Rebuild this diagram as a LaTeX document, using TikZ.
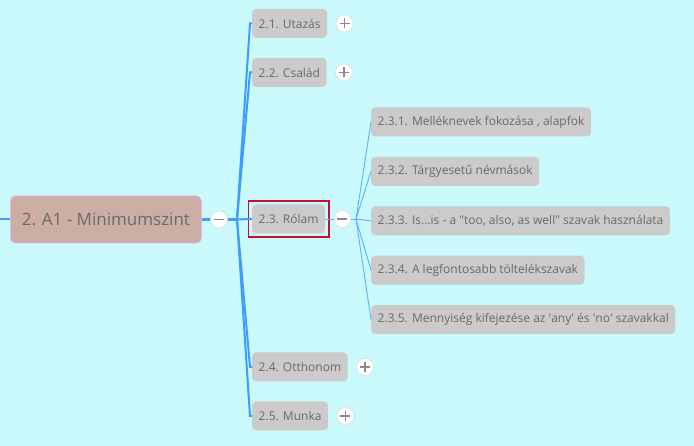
\documentclass[tikz,border=0pt]{standalone}
\usepackage{fontspec}
\setmainfont{Open Sans}
\usetikzlibrary{positioning,fit}

\definecolor{mapbg}{HTML}{C9F9FB}
\definecolor{topicgray}{HTML}{CCCACA}
\definecolor{rootfill}{HTML}{CDAEA4}
\definecolor{rootline}{HTML}{E3B5EC}
\definecolor{textgray}{HTML}{6A6A6A}
\definecolor{linkblue}{HTML}{3E9BFF}
\definecolor{sublinkblue}{HTML}{5CB0FF}
\definecolor{selred}{HTML}{C8102E}
\definecolor{btnline}{HTML}{D2D2D2}
\definecolor{btnsign}{HTML}{8A8A8A}

\newcommand{\btnminus}[1]{\draw[btnsign, line width=1.6pt] ([xshift=-5pt]#1.center) -- ([xshift=5pt]#1.center);}
\newcommand{\btnplus}[1]{\btnminus{#1}\draw[btnsign, line width=1.6pt] ([yshift=-5pt]#1.center) -- ([yshift=5pt]#1.center);}

\begin{document}
\begin{tikzpicture}[
        x=1pt, y=-1pt,
        topic/.style={rectangle, rounded corners=4pt, fill=topicgray, text=textgray, font=\fontsize{12}{14}\selectfont, minimum height=29pt, inner xsep=6.5pt, anchor=west},
        roottopic/.style={rectangle, rounded corners=5pt, draw=rootline, line width=0.8pt, fill=rootfill, text=textgray, font=\fontsize{17}{20}\selectfont, minimum height=47pt, minimum width=191pt, anchor=west},
        button/.style={circle, draw=btnline, fill=white, minimum size=17pt, inner sep=0pt},
        link/.style={draw=linkblue, line width=2pt},
        sublink/.style={draw=sublinkblue, line width=0.9pt},
        selected/.style={rectangle, draw=selred, line width=1.6pt, inner sep=3.5pt}
    ]

    % Background
    \fill[mapbg] (0,0) rectangle (694,446);
    \useasboundingbox (0,0) rectangle (694,446);

    % Central topic
    \node[roottopic] (root) at (10,219.5) {2. A1 - Minimumszint};
    \node[button, right=8.5pt of root] (rootbtn) {};
    \coordinate (lead) at (0,219.5);
    \coordinate (hub) at (237,219.5);

    % Main topics
    \node[topic] (utazas) at (252,23.5) {2.1. Utazás};
    \node[topic] (csalad) at (252,72.5) {2.2. Család};
    \node[topic] (rolam) at (252,219) {2.3. Rólam};
    \node[topic] (otthonom) at (252,367) {2.4. Otthonom};
    \node[topic] (munka) at (252,416) {2.5. Munka};

    \node[button, right=8.5pt of utazas] (utazasbtn) {};
    \node[button, right=8.5pt of csalad] (csaladbtn) {};
    \node[button, right=8.5pt of rolam] (rolambtn) {};
    \node[button, right=8.5pt of otthonom] (otthonombtn) {};
    \node[button, right=8.5pt of munka] (munkabtn) {};

    % Selection frame
    \node[selected, fit=(rolam)] (rolamsel) {};

    % Subtopics of 2.3
    \node[topic] (sub1) at (371,122) {2.3.1. Melléknevek fokozása , alapfok};
    \node[topic, below=20pt of sub1.south west, anchor=north west] (sub2) {2.3.2. Tárgyesetű névmások};
    \node[topic, below=20pt of sub2.south west, anchor=north west] (sub3) {2.3.3. Is...is - a \textquotedbl too, also, as well\textquotedbl\ szavak használata};
    \node[topic, below=20pt of sub3.south west, anchor=north west] (sub4) {2.3.4. A legfontosabb töltelékszavak};
    \node[topic, below=20pt of sub4.south west, anchor=north west] (sub5) {2.3.5. Mennyiség kifejezése az \textquotesingle any\textquotesingle\ és \textquotesingle no\textquotesingle\ szavakkal};
    \coordinate (subhub) at (356,219);

    % Links
    \draw[link] (lead) -- (root.west);
    \draw[link, line width=3pt] (root.east) -- (rootbtn.west);
    \draw[link, line width=3pt] (rootbtn.east) -- (hub);
    \foreach \t in {utazas,csalad,rolam,otthonom,munka}
        \draw[link] (hub) -- ([xshift=-2pt]\t.west) -- (\t.west);
    \draw[sublink] (rolam.east) -- (rolambtn.west);
    \draw[sublink] (rolambtn.east) -- (subhub);
    \foreach \s in {sub1,sub2,sub3,sub4,sub5}
        \draw[sublink] (subhub) -- (\s.west);

    % Button signs
    \btnminus{rootbtn}
    \btnminus{rolambtn}
    \btnplus{utazasbtn}
    \btnplus{csaladbtn}
    \btnplus{otthonombtn}
    \btnplus{munkabtn}

\end{tikzpicture}
\end{document}
